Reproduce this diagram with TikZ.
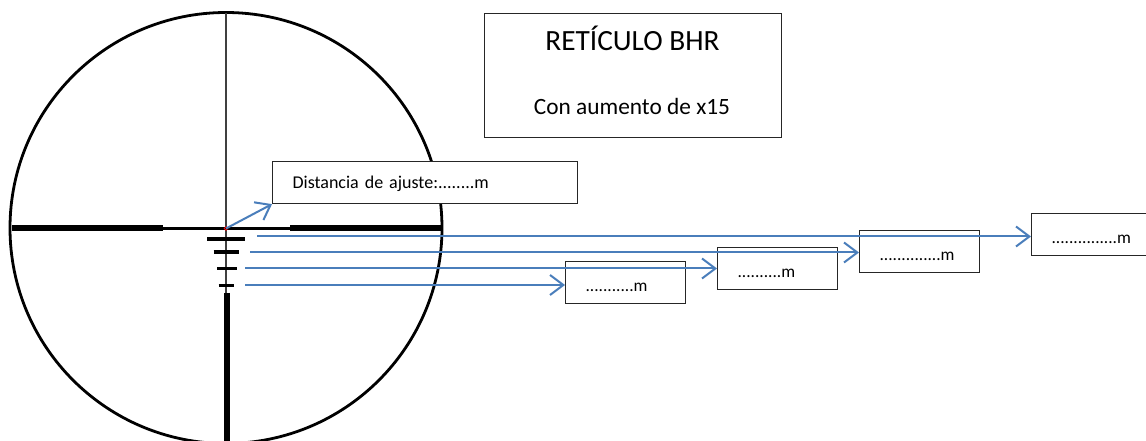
\documentclass[tikz,border=0pt]{standalone}
\usepackage{fontspec}
\setmainfont{Carlito}
\usetikzlibrary{arrows.meta}
\definecolor{pointerblue}{RGB}{74,126,187}
\tikzset{
  readbox/.style = {draw=black!85, fill=white, anchor=north west, line width=0.85pt,
    inner xsep=15pt, inner ysep=0pt, align=left, font=\fontsize{13}{15}\selectfont},
  shortbox/.style = {readbox, text width=60pt, minimum height=31.5pt,
    text height=13pt, text depth=0pt},% cajas de distancia
  titletext/.style = {anchor=base, inner sep=0pt},
  pointer/.style = {-{Straight Barb[length=10pt,width=15pt,line width=1.5pt]},
    pointerblue, line width=1.5pt},
  thinbar/.style = {line width=2.3pt},
  thickbar/.style = {line width=4.5pt},
  tickbar/.style = {line width=2.4pt}
}

\begin{document}
\begin{tikzpicture}[x=0.75pt,y=-0.75pt]
    \useasboundingbox (0,0) rectangle (1146,441);
    % retículo
    \coordinate (centre) at (226,228.5);
    \draw[line width=2.1pt] (226,228) ellipse[x radius=216,y radius=215.5];
    \draw[black!75,line width=1pt] (226,13) -- (226,295);
    \draw[thinbar] (163,228.5) -- (290,228.5);
    \draw[thickbar] (12,228.5) -- (163,228.5);
    \draw[thickbar] (290,228.5) -- (443,228.5);
    \draw[line width=5pt] (227,293) -- (227,441);
    \draw[tickbar] (207,239) -- (245,239);
    \draw[tickbar] (213.5,252) -- (238.5,252);
    \draw[tickbar] (217,268.7) -- (237,268.7);
    \draw[tickbar] (218.5,285.7) -- (233.5,285.7);
    \draw[red,line width=0.7pt] (centre) circle[radius=1.8];
    % cajas
    \node[readbox,minimum width=222.75pt,minimum height=93pt] (title) at (484,13) {};
    \node[titletext,font=\fontsize{22}{26}\selectfont] (titlename) at (632.5,51) {RETÍCULO BHR};
    \node[titletext,font=\fontsize{17.5}{21}\selectfont] (titlezoom) at (632,115) {Con aumento de x15};
    \node[readbox,text width=198.75pt,minimum height=31.5pt,text height=9pt,text depth=0pt,
        font=\fontsize{13.5}{15}\selectfont] (zero) at (272,161) {Distancia de ajuste:........m};
    \node[shortbox] (first) at (565,261) {...........m};
    \node[shortbox] (second) at (717,247) {..........m};
    \node[shortbox] (third) at (859,230) {..............m};
    \node[shortbox] (fourth) at (1031,213) {...............m};
    % flechas
    \coordinate (startf) at (245,285);
    \coordinate (starts) at (245,268.5);
    \coordinate (startt) at (250,252.5);
    \coordinate (startq) at (257,236.5);
    \draw[pointer] (centre) -- (zero.south west);
    \draw[pointer] (startf) -- (startf -| first.west);
    \draw[pointer] (starts) -- (starts -| second.west);
    \draw[pointer] (startt) -- (startt -| third.west);
    \draw[pointer] (startq) -- (startq -| fourth.west);
\end{tikzpicture}
\end{document}
